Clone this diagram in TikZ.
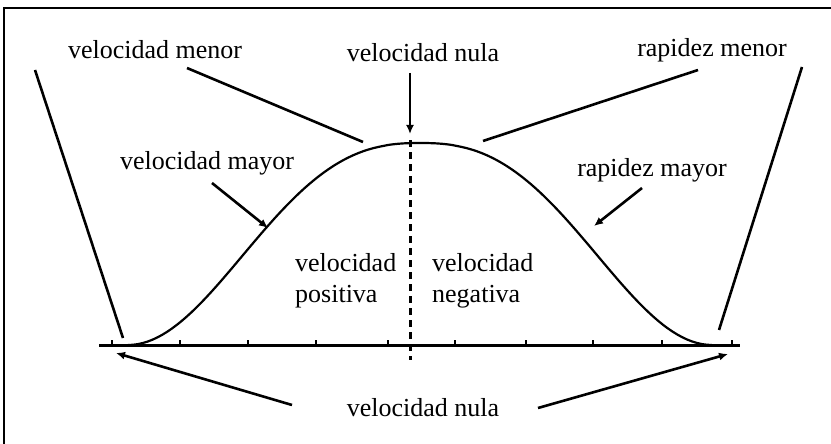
\documentclass[tikz,border=0pt]{standalone}
\usepackage{fontspec}
\setmainfont{Liberation Serif}
\usetikzlibrary{arrows.meta}
\begin{document}
\begin{tikzpicture}[x=1pt, y=-1pt,
                    etiqueta/.style={font=\fontsize{26}{31}\selectfont, inner sep=0pt},
                    linea/.style={line width=2.6pt},
                    flecha/.style={linea, -{Latex[length=9pt, width=8pt]}},
                    eje/.style={line width=3pt}
                ]
                \useasboundingbox (0,0) rectangle (831,444);
                % marco
                \draw[line width=1.4pt] (4,444) -- (4,8) -- (831,8);

                % eje y marcas
                \coordinate (ejeI) at (99,345);
                \coordinate (ejeD) at (740,345);
                \draw[eje] (ejeI) -- (ejeD);
                \foreach \x in {112,180,248,316,388,455,526,593,662,732}
                    \draw[line width=2pt] (\x,345) -- (\x,340);

                % curva
                \draw[line width=2.2pt, line join=round] plot[domain=-1:1, samples=120, variable=\t]
                    ({420+292*\t}, {143+101*(1-cos(180*(abs(\t))^1.25))});

                % linea vertical punteada
                \coordinate (cima) at (410,140);
                \coordinate (base) at (410,360);
                \draw[line width=3pt, dash pattern=on 7pt off 5pt] (cima) -- (base);

                % textos
                \node[etiqueta] (vmenor) at (155,50) {velocidad menor};
                \node[etiqueta] (vnulaA) at (423,53) {velocidad nula};
                \node[etiqueta] (rmenor) at (712,50) {rapidez menor};
                \node[etiqueta] (vmayor) at (207,163) {velocidad mayor};
                \node[etiqueta] (rmayor) at (652,170) {rapidez mayor};
                \node[etiqueta, align=left, anchor=west] (vpos) at (295,281) {velocidad\\positiva};
                \node[etiqueta, align=left, anchor=west] (vneg) at (432,281) {velocidad\\negativa};
                \node[etiqueta] (vnulaB) at (423,408) {velocidad nula};

                % puntos de las lineas
                \coordinate (izqA) at (35,70);
                \coordinate (izqB) at (123,338);
                \coordinate (derA) at (802,67);
                \coordinate (derB) at (719,330);
                \coordinate (vmenorA) at (187,68);
                \coordinate (vmenorB) at (363,142);
                \coordinate (rmenorA) at (698,70);
                \coordinate (rmenorB) at (483,141);
                \coordinate (nulaA) at (410,73);
                \coordinate (nulaB) at (410,134);
                \coordinate (vmayorA) at (212,183);
                \coordinate (vmayorB) at (268,228);
                \coordinate (rmayorA) at (642,188);
                \coordinate (rmayorB) at (594,226);
                \coordinate (bajoIA) at (292,405);
                \coordinate (bajoIB) at (116,353);
                \coordinate (bajoDA) at (538,408);
                \coordinate (bajoDB) at (728,354);

                \draw[linea] (izqA) -- (izqB);
                \draw[linea] (derA) -- (derB);
                \draw[linea] (vmenorA) -- (vmenorB);
                \draw[linea] (rmenorA) -- (rmenorB);
                \draw[flecha] (nulaA) -- (nulaB);
                \draw[flecha] (vmayorA) -- (vmayorB);
                \draw[flecha] (rmayorA) -- (rmayorB);
                \draw[flecha] (bajoIA) -- (bajoIB);
                \draw[flecha] (bajoDA) -- (bajoDB);
                \end{tikzpicture}
\end{document}
